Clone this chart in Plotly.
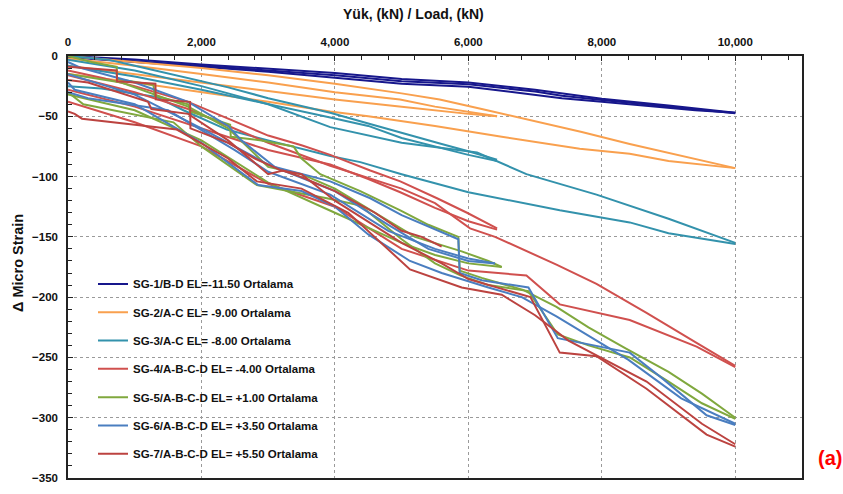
import plotly.graph_objects as go

# ---------------- data (load kN, delta micro strain); each series = several load/unload curves
SERIES_NAMES = [
    "SG-1/B-D EL=-11.50 Ortalama",
    "SG-2/A-C EL= -9.00 Ortalama",
    "SG-3/A-C EL= -8.00 Ortalama",
    "SG-4/A-B-C-D EL= -4.00 Ortalama",
    "SG-5/A-B-C-D EL= +1.00 Ortalama",
    "SG-6/A-B-C-D EL= +3.50 Ortalama",
    "SG-7/A-B-C-D EL= +5.50 Ortalama",
]
SERIES_COLORS = ["#17178C", "#F9A04E", "#3392AC", "#D0504E", "#80A83E", "#4A7EC0", "#BC4340"]

SG1_LOAD = [
    [0, 1000, 2000, 3000, 4000, 5000, 6000, 7000, 8000, 9000, 10000],
    [10000, 9400, 8000, 7400, 6000, 5000, 4000, 3000, 2000, 1000, 0],
    [0, 1000, 2000, 3000, 4000, 5000, 6000, 7000, 7400, 8000, 9000, 10000],
]
SG1_STRAIN = [
    [0, -3, -7, -10.5, -14, -19, -22, -28, -35.5, -41, -47],
    [-47, -45, -38, -35, -25.5, -23, -18, -13, -9, -5, -1],
    [-0.5, -4, -8, -12, -16, -21, -23.5, -29.5, -33, -36.5, -42, -47.5],
]

SG2_LOAD = [
    [0, 1000, 2000, 3000, 4000, 5000, 5570, 6200, 7000, 7700, 8418, 9200, 10000],
    [10000, 9000, 8418, 7669, 6500, 5500, 4500, 3930, 3000, 2000, 1000, 0],
    [0, 1000, 2000, 3000, 4000, 4975, 5500, 6000, 6430],
    [6430, 6000, 5000, 4000, 3000, 2000, 1000, 0],
]
SG2_STRAIN = [
    [0, -5, -10, -16, -23, -31, -36, -44, -54, -63, -73, -83, -93],
    [-93, -87, -81, -77, -67, -58, -50, -46, -38, -30, -22, -15],
    [-2, -8, -15, -22, -30, -36, -42, -46, -50],
    [-50, -48, -42, -36, -29, -22, -15, -8],
]

SG3_LOAD = [
    [0, 600, 1000, 1800, 2400, 3000, 3930, 4500, 5000, 5600, 6000, 6430],
    [6430, 6000, 5000, 4500, 3930, 3000, 2000, 1000, 0],
    [0, 1000, 2000, 3000, 3930, 5000, 6130, 6870, 7920, 9000, 10000],
    [10000, 9000, 8418, 7370, 6000, 5000, 4380, 3930, 3000, 2380, 1730, 1330, 500, 0],
]
SG3_STRAIN = [
    [0, -3, -8, -18, -26, -35, -47, -56, -64, -73, -79, -86],
    [-87, -82, -68, -58, -51, -40, -28, -17, -8],
    [-3, -12, -25, -40, -59, -72, -80, -98, -115, -135, -155],
    [-156, -147, -138, -128, -113, -98, -88, -83, -70, -61, -45, -34, -27, -25],
]

SG4_LOAD = [
    [0, 500, 1000, 1800, 2400, 3000, 3500, 3930, 4530, 4980, 5530, 5980, 6430],
    [6430, 6000, 5500, 4980, 4500, 3930, 3000, 2000, 1000, 0],
    [0, 1000, 1800, 2400, 3000, 3930, 5000, 5500, 6025, 6400, 6770, 7320, 7920, 8670, 9420, 10000],
    [10000, 9420, 8418, 7370, 6870, 6000, 5000, 4000, 3000, 2000, 1000, 0],
]
SG4_STRAIN = [
    [-12, -18, -25, -38, -52, -66, -74, -82, -95, -104, -118, -130, -143],
    [-144, -137, -126, -113, -102, -90, -78, -60, -42, -28],
    [-16, -30, -44, -58, -72, -91, -110, -122, -143, -150, -159, -173, -189, -213, -238, -257],
    [-258, -241, -219, -206, -182, -178, -160, -125, -106, -75, -55, -38],
]

SG5_LOAD = [
    [0, 350, 730, 735, 1280, 1300, 1800, 1830, 2430, 2440, 2900, 3380, 3500, 3780, 4380, 4980,
     5400, 5850, 5870, 6200, 6820, 7320, 7800, 8370, 9000, 9500, 10000],
    [10000, 9500, 9000, 8420, 7800, 7340, 6900, 6300, 5880, 5500, 5000, 4380, 3880, 2830, 2000,
     1580, 230, 60, 0],
    [0, 800, 1800, 2400, 3000, 3500, 4000, 4600, 5200, 5900, 6300, 6500],
    [6500, 6000, 5500, 5000, 4000, 3000, 2000, 1000, 0],
]
SG5_STRAIN = [
    [0, -5, -9, -19, -24, -33, -40, -46, -57, -67, -70, -75, -85, -98, -112, -128,
     -140, -150, -178, -184, -194, -208, -225, -243, -262, -280, -300],
    [-301, -288, -270, -250, -240, -231, -195, -190, -182, -172, -152, -124, -118, -107, -75,
     -55, -40, -33, -30],
    [-15, -22, -42, -60, -92, -98, -110, -130, -150, -162, -170, -175],
    [-175, -172, -165, -155, -130, -105, -70, -45, -32],
]

SG6_LOAD = [
    [0, 200, 1000, 1800, 2400, 2600, 3100, 3930, 4530, 5000, 5850, 5870, 6200, 6900, 7340, 8418,
     8920, 9570, 10000],
    [10000, 9500, 9190, 8400, 7320, 6800, 6300, 5600, 5125, 4500, 4000, 3500, 2850, 2000, 1000,
     100, 0],
    [0, 200, 300, 1500, 2500, 3000, 3930, 4800, 5500, 6000, 6400],
    [6400, 6000, 5400, 4800, 4000, 3000, 2000, 1000, 0],
]
SG6_STRAIN = [
    [-5, -10, -22, -38, -58, -70, -92, -104, -118, -132, -152, -180, -186, -192, -234, -246,
     -268, -298, -306],
    [-305, -292, -284, -252, -216, -200, -192, -180, -170, -148, -125, -112, -107, -72, -40,
     -28, -22],
    [-30, -33, -35, -45, -78, -96, -115, -145, -160, -168, -172],
    [-172, -170, -160, -140, -112, -90, -60, -32, -15],
]

SG7_LOAD = [
    [0, 730, 735, 1310, 1315, 1830, 1835, 2400, 2800, 3200, 3500, 4000, 5000, 5600, 6000, 6930,
     7370, 7920, 8670, 9200, 9570, 10000],
    [10000, 9500, 8670, 8020, 7500, 7000, 6500, 5900, 5125, 4200, 3500, 2830, 2400, 1630, 210,
     100, 0],
    [0, 300, 1200, 1250, 1800, 2400, 3000, 3220, 3480, 4000, 4600, 5000, 5300, 5600],
]
SG7_STRAIN = [
    [-9, -12, -21, -23, -36, -38, -60, -72, -85, -95, -98, -120, -155, -172, -185, -200,
     -246, -249, -276, -298, -314, -324],
    [-322, -305, -270, -251, -236, -215, -198, -192, -177, -130, -110, -104, -85, -61, -52,
     -48, -46],
    [-20, -22, -38, -44, -48, -70, -98, -95, -100, -112, -130, -145, -150, -158],
]

SERIES_LOADS = [SG1_LOAD, SG2_LOAD, SG3_LOAD, SG4_LOAD, SG5_LOAD, SG6_LOAD, SG7_LOAD]
SERIES_STRAINS = [SG1_STRAIN, SG2_STRAIN, SG3_STRAIN, SG4_STRAIN, SG5_STRAIN, SG6_STRAIN, SG7_STRAIN]

X_TICKS = [0, 2000, 4000, 6000, 8000, 10000]
X_TICK_TEXT = ["0", "2,000", "4,000", "6,000", "8,000", "10,000"]
Y_TICKS = [0, -50, -100, -150, -200, -250, -300, -350]

# ---------------- figure
W, H = 843, 494
L, R, T, B = 68, 41, 56, 10

fig = go.Figure()
for name, color, loads, strains in zip(SERIES_NAMES, SERIES_COLORS, SERIES_LOADS, SERIES_STRAINS):
    xs, ys = [], []
    for lx, sy in zip(loads, strains):
        xs += lx + [None]
        ys += sy + [None]
    fig.add_trace(go.Scatter(
        x=xs, y=ys, mode="lines", name=name, legendgroup=name,
        line=dict(color=color, width=2), connectgaps=False,
    ))

FONT = "Liberation Sans, Arial, sans-serif"
grid = dict(showgrid=True, gridcolor="#9a9a9a", griddash="dot", gridwidth=1)

fig.update_layout(
    width=W, height=H,
    margin=dict(l=L, r=R, t=T, b=B, pad=0),
    paper_bgcolor="white", plot_bgcolor="white",
    font=dict(family=FONT, color="#111111"),
    showlegend=True,
    legend=dict(
        x=(93 - L) / (W - L - R), y=1 - (272.5 - T) / (H - T - B),
        xanchor="left", yanchor="top",
        bgcolor="rgba(0,0,0,0)", borderwidth=0,
        font=dict(family=FONT, size=11.5, color="#111111", weight="bold"),
        tracegroupgap=9.3, itemwidth=30,
    ),
    xaxis=dict(
        side="top", range=[0, 11000], tickmode="array",
        tickvals=X_TICKS, ticktext=X_TICK_TEXT,
        ticks="inside", ticklen=5, tickcolor="#222", ticklabelstandoff=4,
        tickfont=dict(family=FONT, size=11.5, weight="bold", color="#111"),
        minor=dict(dtick=400, ticks="inside", ticklen=4, tickcolor="#222", showgrid=False),
        showline=True, linecolor="#222", linewidth=1.5, mirror=True,
        zeroline=False, **grid,
    ),
    yaxis=dict(
        range=[-350, 0], tickmode="array", tickvals=Y_TICKS,
        ticks="inside", ticklen=5, tickcolor="#222", ticklabelstandoff=6,
        tickfont=dict(family=FONT, size=11.5, weight="bold", color="#111"),
        minor=dict(dtick=10, ticks="inside", ticklen=4, tickcolor="#222", showgrid=False),
        showline=True, linecolor="#222", linewidth=1.5, mirror=True,
        zeroline=False, **grid,
    ),
    annotations=[
        dict(text="Yük, (kN) / Load, (kN)", xref="paper", yref="paper",
             x=(413 - L) / (W - L - R), y=1 + (T - 13) / (H - T - B),
             xanchor="center", yanchor="middle", showarrow=False,
             font=dict(family=FONT, size=14, weight="bold", color="#111")),
        dict(text="Δ Micro Strain", xref="paper", yref="paper",
             x=(18 - L) / (W - L - R), y=1 - (266 - T) / (H - T - B),
             xanchor="center", yanchor="middle", textangle=-90, showarrow=False,
             font=dict(family=FONT, size=14.5, weight="bold", color="#111")),
        dict(text="(a)", xref="paper", yref="paper",
             x=(816 - L) / (W - L - R), y=1 - (464 - T) / (H - T - B),
             xanchor="left", yanchor="middle", showarrow=False,
             font=dict(family=FONT, size=20, weight="bold", color="#FF0000")),
    ],
)

fig.write_html("out.html")
